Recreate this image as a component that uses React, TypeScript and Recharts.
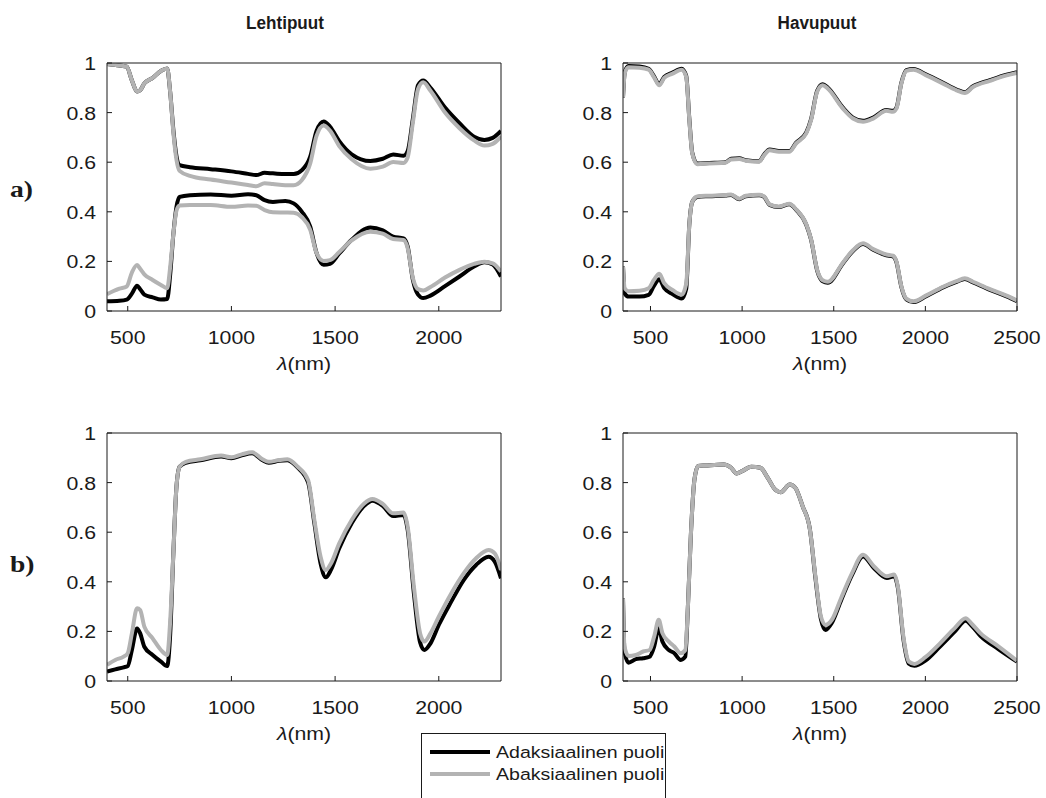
import { LineChart, Line, XAxis, YAxis } from "recharts";

// wavelengths (nm) and reflectance/transmittance
const WL_LEHTI_A = [
  400, 460, 495, 520, 545, 560, 580, 620, 660, 690, 705, 720, 735, 750, 800,
  900, 1000, 1080, 1120, 1160, 1200, 1260, 1300, 1340, 1380, 1410, 1445, 1475,
  1520, 1580, 1670, 1730, 1780, 1830, 1850, 1875, 1900, 1925, 1960, 2030, 2100,
  2170, 2220, 2260, 2300,
];
const LEHTI_A_UP_ADAX = [
  0.996, 0.99, 0.985, 0.93, 0.885, 0.89, 0.918, 0.94, 0.968, 0.978, 0.88, 0.73,
  0.625, 0.588, 0.58, 0.572, 0.563, 0.553, 0.548, 0.557, 0.555, 0.552, 0.552,
  0.568, 0.622, 0.725, 0.764, 0.744, 0.685, 0.632, 0.605, 0.614, 0.631, 0.626,
  0.645, 0.775, 0.91, 0.929, 0.9, 0.82, 0.757, 0.703, 0.69, 0.698, 0.726,
];
const LEHTI_A_UP_ABAX = [
  0.996, 0.99, 0.985, 0.93, 0.885, 0.89, 0.918, 0.94, 0.968, 0.978, 0.88, 0.72,
  0.61, 0.565, 0.545, 0.53, 0.518, 0.508, 0.503, 0.515, 0.512, 0.507, 0.507,
  0.528, 0.595, 0.705, 0.748, 0.728, 0.665, 0.612, 0.574, 0.582, 0.601, 0.597,
  0.62, 0.76, 0.895, 0.922, 0.888, 0.8, 0.737, 0.688, 0.667, 0.674, 0.704,
];
const LEHTI_A_LOW_ADAX = [
  0.039, 0.041, 0.046, 0.07, 0.102, 0.088, 0.066, 0.055, 0.046, 0.048, 0.15,
  0.31, 0.42, 0.46, 0.467, 0.47, 0.465, 0.471, 0.467, 0.447, 0.44, 0.444, 0.434,
  0.4, 0.34, 0.235, 0.186, 0.19, 0.232, 0.287, 0.337, 0.325, 0.3, 0.293, 0.26,
  0.126, 0.066, 0.052, 0.062, 0.1, 0.139, 0.179, 0.197, 0.188, 0.139,
];
const LEHTI_A_LOW_ABAX = [
  0.068, 0.09, 0.099, 0.155, 0.185, 0.17, 0.148, 0.125, 0.105, 0.092, 0.18,
  0.31, 0.405, 0.425, 0.427, 0.427, 0.42, 0.425, 0.424, 0.407, 0.398, 0.397,
  0.396, 0.378, 0.327, 0.235, 0.202, 0.205, 0.238, 0.285, 0.32, 0.312, 0.29,
  0.286, 0.253, 0.133, 0.088, 0.083, 0.097, 0.135, 0.166, 0.19, 0.199, 0.192,
  0.159,
];

const WL_HAVU_A = [
  350, 360, 380, 440, 490, 518, 548, 575, 620, 670, 695, 712, 728, 755, 820,
  910, 940, 985, 1020, 1093, 1120, 1150, 1200, 1257, 1295, 1350, 1376, 1410,
  1440, 1467, 1550, 1605, 1660, 1715, 1787, 1823, 1842, 1869, 1896, 1935, 2005,
  2097, 2170, 2215, 2260, 2352, 2443, 2500,
];
const HAVU_A_UP_ADAX = [
  0.86, 0.965, 0.988, 0.986, 0.977, 0.948, 0.915, 0.944, 0.961, 0.977, 0.948,
  0.775, 0.638, 0.595, 0.597, 0.6, 0.614, 0.616, 0.608, 0.604, 0.631, 0.651,
  0.645, 0.645, 0.679, 0.72, 0.773, 0.889, 0.914, 0.901, 0.82, 0.78, 0.767,
  0.78, 0.81, 0.807, 0.82, 0.92, 0.971, 0.976, 0.953, 0.92, 0.893, 0.882, 0.906,
  0.931, 0.953, 0.963,
];
const HAVU_A_UP_ABAX = [
  0.86, 0.96, 0.983, 0.981, 0.973, 0.944, 0.91, 0.94, 0.957, 0.973, 0.944, 0.77,
  0.635, 0.592, 0.595, 0.598, 0.611, 0.613, 0.606, 0.602, 0.628, 0.648, 0.642,
  0.642, 0.676, 0.716, 0.769, 0.885, 0.91, 0.897, 0.816, 0.776, 0.763, 0.776,
  0.807, 0.803, 0.816, 0.917, 0.968, 0.973, 0.95, 0.917, 0.89, 0.879, 0.903,
  0.928, 0.95, 0.96,
];
const HAVU_A_LOW_ADAX = [
  0.18, 0.07, 0.058, 0.058, 0.065, 0.1, 0.128, 0.092, 0.068, 0.05, 0.09, 0.35,
  0.44, 0.46, 0.463, 0.466, 0.468, 0.451, 0.463, 0.467, 0.46, 0.428, 0.419,
  0.43, 0.408, 0.348, 0.288, 0.162, 0.12, 0.114, 0.192, 0.242, 0.27, 0.247,
  0.225, 0.22, 0.197, 0.097, 0.047, 0.036, 0.06, 0.095, 0.117, 0.129, 0.115,
  0.085, 0.059, 0.04,
];
const HAVU_A_LOW_ABAX = [
  0.18, 0.09, 0.08, 0.082, 0.092, 0.125, 0.15, 0.112, 0.085, 0.066, 0.11, 0.35,
  0.44, 0.462, 0.465, 0.468, 0.47, 0.453, 0.465, 0.469, 0.462, 0.43, 0.421,
  0.432, 0.41, 0.35, 0.29, 0.165, 0.124, 0.118, 0.195, 0.245, 0.273, 0.25,
  0.228, 0.223, 0.2, 0.1, 0.05, 0.039, 0.063, 0.098, 0.12, 0.132, 0.118, 0.088,
  0.062, 0.043,
];

const WL_LEHTI_B = [
  400, 440, 480, 500, 520, 545, 560, 580, 620, 660, 690, 705, 720, 735, 750,
  780, 850, 950, 1000, 1050, 1100, 1150, 1180, 1230, 1270, 1320, 1370, 1400,
  1430, 1455, 1480, 1520, 1580, 1640, 1680, 1730, 1780, 1830, 1850, 1880, 1910,
  1930, 1960, 2000, 2060, 2120, 2180, 2240, 2270, 2300,
];
const LEHTI_B_ADAX = [
  0.038, 0.047, 0.055, 0.06, 0.125, 0.212, 0.192, 0.138, 0.105, 0.078, 0.06,
  0.192, 0.515, 0.784, 0.864, 0.88, 0.89, 0.905, 0.898, 0.91, 0.918, 0.89, 0.88,
  0.888, 0.89, 0.86, 0.8, 0.636, 0.474, 0.418, 0.448, 0.535, 0.636, 0.706,
  0.727, 0.706, 0.665, 0.669, 0.609, 0.353, 0.155, 0.125, 0.152, 0.226, 0.32,
  0.407, 0.468, 0.501, 0.481, 0.414,
];
const LEHTI_B_ABAX = [
  0.065, 0.085, 0.098, 0.112, 0.192, 0.293, 0.286, 0.219, 0.172, 0.125, 0.105,
  0.246, 0.515, 0.784, 0.864, 0.884, 0.894, 0.909, 0.902, 0.914, 0.922, 0.894,
  0.884, 0.891, 0.894, 0.864, 0.81, 0.649, 0.501, 0.448, 0.474, 0.555, 0.649,
  0.716, 0.734, 0.714, 0.676, 0.679, 0.622, 0.38, 0.192, 0.159, 0.192, 0.259,
  0.353, 0.434, 0.495, 0.528, 0.515, 0.448,
];

const WL_HAVU_B = [
  350, 358, 380, 420, 460, 495, 520, 545, 565, 600, 630, 665, 690, 705, 720,
  740, 760, 800, 900, 940, 970, 1000, 1050, 1100, 1140, 1180, 1210, 1260, 1290,
  1330, 1370, 1400, 1430, 1455, 1490, 1540, 1600, 1660, 1720, 1790, 1830, 1850,
  1880, 1910, 1940, 2000, 2080, 2160, 2220, 2250, 2300, 2400, 2500,
];
const HAVU_B_ADAX = [
  0.334, 0.12, 0.074, 0.088, 0.092, 0.098, 0.139, 0.213, 0.159, 0.125, 0.112,
  0.085, 0.098, 0.314, 0.584, 0.813, 0.867, 0.869, 0.873, 0.86, 0.837, 0.846,
  0.864, 0.86, 0.819, 0.772, 0.761, 0.792, 0.779, 0.705, 0.611, 0.415, 0.25,
  0.206, 0.235, 0.325, 0.428, 0.502, 0.455, 0.415, 0.422, 0.375, 0.17, 0.07,
  0.061, 0.082, 0.139, 0.199, 0.243, 0.225, 0.182, 0.128, 0.078,
];
const HAVU_B_ABAX = [
  0.334, 0.139, 0.101, 0.105, 0.119, 0.125, 0.179, 0.247, 0.193, 0.159, 0.139,
  0.112, 0.125, 0.314, 0.584, 0.813, 0.867, 0.869, 0.873, 0.86, 0.837, 0.846,
  0.864, 0.86, 0.819, 0.772, 0.761, 0.792, 0.779, 0.705, 0.611, 0.422, 0.26,
  0.226, 0.247, 0.334, 0.435, 0.509, 0.462, 0.422, 0.429, 0.381, 0.179, 0.078,
  0.069, 0.096, 0.152, 0.213, 0.253, 0.233, 0.193, 0.139, 0.082,
];

const Y_TICKS = [0, 0.2, 0.4, 0.6, 0.8, 1];
const X_TICKS_LEHTI = [500, 1000, 1500, 2000];
const X_TICKS_HAVU = [500, 1000, 1500, 2000, 2500];

const INK = "#1a1a1a";
const ADAX = "#000000";
const ABAX = "#b3b3b3";
const FONT = "'Liberation Sans', Arial, sans-serif";
const SERIF = "'Liberation Serif', 'Times New Roman', serif";

function XTick(props: any) {
  const { x, y, payload } = props;
  return (
    <text
      transform={`translate(${x},${y}) scale(1.15,1)`}
      textAnchor="middle"
      fontFamily={FONT}
      fontSize={18.5}
      fill={INK}
    >
      {payload.value}
    </text>
  );
}

function YTick(props: any) {
  const { x, y, payload } = props;
  return (
    <text
      transform={`translate(${x},${y + 7}) scale(1.15,1)`}
      textAnchor="end"
      fontFamily={FONT}
      fontSize={18.5}
      fill={INK}
    >
      {payload.value}
    </text>
  );
}

function LambdaLabel(props: any) {
  const vb = props.viewBox || { x: 0, y: 0, width: 0 };
  return (
    <text
      transform={`translate(${vb.x + vb.width / 2},${vb.y + 59}) scale(1.15,1)`}
      textAnchor="middle"
      fontFamily={FONT}
      fontSize={18.5}
      fill={INK}
    >
      <tspan fontStyle="italic">λ</tspan>(nm)
    </text>
  );
}

interface Series {
  values: number[];
  color: string;
}

interface PanelProps {
  left: number; // plot area left edge
  top: number; // plot area top edge
  wl: number[];
  domain: [number, number];
  xTicks: number[];
  series: Series[];
}

function Panel({ left, top, wl, domain, xTicks, series }: PanelProps) {
  const data = wl.map((w, i) => {
    const row: Record<string, number> = { w };
    series.forEach((s, j) => {
      row["s" + j] = s.values[i];
    });
    return row;
  });

  return (
    <div style={{ position: "absolute", left: left - 60, top: top - 13 }}>
      <LineChart
        width={485}
        height={336}
        data={data}
        margin={{ top: 12, right: 30, bottom: 0, left: 0 }}
      >
        <XAxis
          dataKey="w"
          type="number"
          domain={domain}
          ticks={xTicks}
          interval={0}
          allowDataOverflow
          height={75}
          tickSize={-5}
          tickMargin={38}
          tick={<XTick />}
          stroke={INK}
          label={<LambdaLabel />}
        />
        <XAxis
          xAxisId="top"
          orientation="top"
          type="number"
          domain={domain}
          ticks={xTicks}
          interval={0}
          allowDataOverflow
          height={1}
          tickSize={-5}
          tick={false}
          stroke={INK}
        />
        <YAxis
          type="number"
          domain={[0, 1]}
          ticks={Y_TICKS}
          interval={0}
          allowDataOverflow
          width={60}
          tickSize={-5}
          tickMargin={16}
          tick={<YTick />}
          stroke={INK}
        />
        <YAxis
          yAxisId="right"
          orientation="right"
          type="number"
          domain={[0, 1]}
          ticks={Y_TICKS}
          interval={0}
          allowDataOverflow
          width={1}
          tickSize={-5}
          tick={false}
          stroke={INK}
        />
        {series.map((s, j) => (
          <Line
            key={j}
            dataKey={"s" + j}
            type="monotone"
            stroke={s.color}
            strokeWidth={4}
            strokeLinejoin="round"
            dot={false}
            activeDot={false}
            isAnimationActive={false}
          />
        ))}
      </LineChart>
    </div>
  );
}

export default function App() {
  return (
    <div
      style={{
        position: "absolute",
        left: 0,
        top: 0,
        width: 1046,
        height: 798,
        overflow: "hidden",
        background: "#fff",
      }}
    >
      <Panel
        left={107}
        top={63}
        wl={WL_LEHTI_A}
        domain={[400, 2300]}
        xTicks={X_TICKS_LEHTI}
        series={[
          { values: LEHTI_A_UP_ADAX, color: ADAX },
          { values: LEHTI_A_LOW_ADAX, color: ADAX },
          { values: LEHTI_A_UP_ABAX, color: ABAX },
          { values: LEHTI_A_LOW_ABAX, color: ABAX },
        ]}
      />
      <Panel
        left={623}
        top={63}
        wl={WL_HAVU_A}
        domain={[350, 2500]}
        xTicks={X_TICKS_HAVU}
        series={[
          { values: HAVU_A_UP_ADAX, color: ADAX },
          { values: HAVU_A_LOW_ADAX, color: ADAX },
          { values: HAVU_A_UP_ABAX, color: ABAX },
          { values: HAVU_A_LOW_ABAX, color: ABAX },
        ]}
      />
      <Panel
        left={107}
        top={433}
        wl={WL_LEHTI_B}
        domain={[400, 2300]}
        xTicks={X_TICKS_LEHTI}
        series={[
          { values: LEHTI_B_ADAX, color: ADAX },
          { values: LEHTI_B_ABAX, color: ABAX },
        ]}
      />
      <Panel
        left={623}
        top={433}
        wl={WL_HAVU_B}
        domain={[350, 2500]}
        xTicks={X_TICKS_HAVU}
        series={[
          { values: HAVU_B_ADAX, color: ADAX },
          { values: HAVU_B_ABAX, color: ABAX },
        ]}
      />

      <svg
        width={1046}
        height={798}
        style={{ position: "absolute", left: 0, top: 0, pointerEvents: "none" }}
      >
        <text
          transform="translate(285,29) scale(0.9,1)"
          textAnchor="middle"
          fontFamily={FONT}
          fontWeight="bold"
          fontSize={19}
          fill={INK}
        >
          Lehtipuut
        </text>
        <text
          transform="translate(817,29) scale(0.9,1)"
          textAnchor="middle"
          fontFamily={FONT}
          fontWeight="bold"
          fontSize={19}
          fill={INK}
        >
          Havupuut
        </text>
        <text
          transform="translate(10,197) scale(1.15,1)"
          fontFamily={SERIF}
          fontWeight="bold"
          fontSize={24}
          fill={INK}
        >
          a)
        </text>
        <text
          transform="translate(10,572) scale(1.15,1)"
          fontFamily={SERIF}
          fontWeight="bold"
          fontSize={24}
          fill={INK}
        >
          b)
        </text>

        <rect x={421.5} y={733.5} width={244} height={80} fill="#fff" stroke={INK} />
        <line x1={430} y1={752} x2={490} y2={752} stroke={ADAX} strokeWidth={4} />
        <line x1={430} y1={774} x2={490} y2={774} stroke={ABAX} strokeWidth={4} />
        <text
          transform="translate(496,758) scale(1.15,1)"
          fontFamily={FONT}
          fontSize={17}
          fill={INK}
        >
          Adaksiaalinen puoli
        </text>
        <text
          transform="translate(496,780) scale(1.15,1)"
          fontFamily={FONT}
          fontSize={17}
          fill={INK}
        >
          Abaksiaalinen puoli
        </text>
      </svg>
    </div>
  );
}
